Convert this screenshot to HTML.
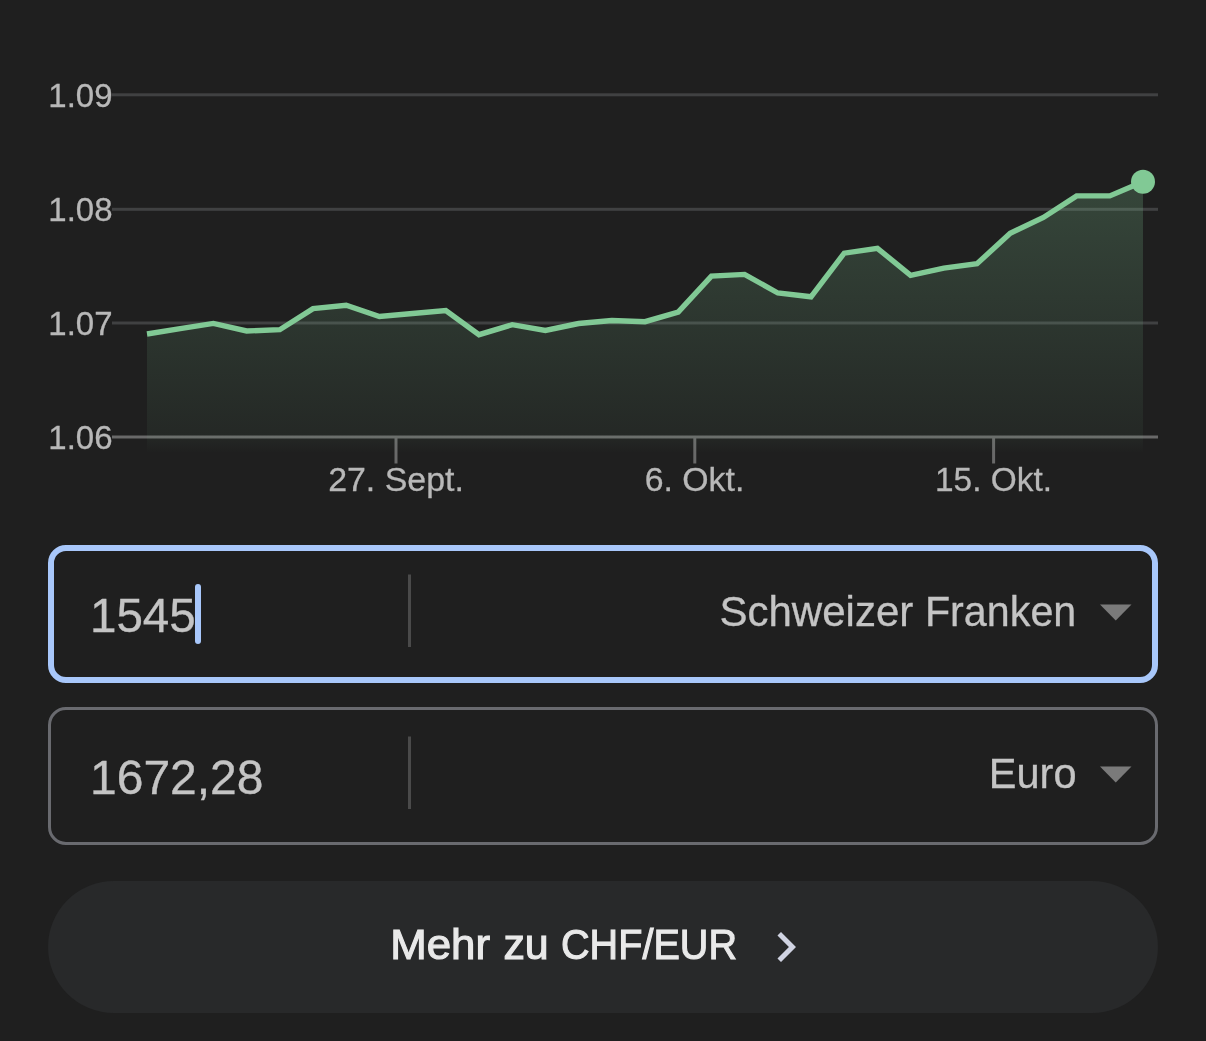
<!DOCTYPE html>
<html lang="de">
<head>
<meta charset="utf-8">
<title>CHF/EUR</title>
<style>
html,body{margin:0;padding:0;background:#1f1f1f;}
body{width:1206px;height:1041px;overflow:hidden;font-family:"Liberation Sans",sans-serif;}
svg{display:block;}
text{font-family:"Liberation Sans",sans-serif;}
</style>
</head>
<body>
<svg width="1206" height="1041" viewBox="0 0 1206 1041">
<defs>
<linearGradient id="g" gradientUnits="userSpaceOnUse" x1="0" y1="181" x2="0" y2="453">
<stop offset="0" stop-color="#81c995" stop-opacity="0.235"/>
<stop offset="0.9375" stop-color="#81c995" stop-opacity="0.055"/>
<stop offset="1" stop-color="#81c995" stop-opacity="0"/>
</linearGradient>
<filter id="bl" x="-20%" y="-20%" width="140%" height="140%"><feGaussianBlur stdDeviation="0.7"/></filter>
</defs>
<rect width="1206" height="1041" fill="#1f1f1f"/>
<!-- grid -->
<g fill="#404142">
<rect x="112" y="93.3" width="1046" height="3"/>
<rect x="112" y="207.8" width="1046" height="3"/>
<rect x="112" y="321.5" width="1046" height="3"/>
</g>
<g fill="#696969">
<rect x="112" y="435.5" width="1046" height="3"/>
<rect x="394.5" y="437" width="3" height="26.5"/>
<rect x="693.3" y="437" width="3" height="26.5"/>
<rect x="992.1" y="437" width="3" height="26.5"/>
</g>
<!-- y labels -->
<g font-size="33" fill="#b8b8b8" stroke="#b8b8b8" stroke-width="0.3">
<text x="48.3" y="107">1.09</text>
<text x="48.3" y="221">1.08</text>
<text x="48.3" y="335">1.07</text>
<text x="48.3" y="449">1.06</text>
</g>
<g font-size="33" fill="#b8b8b8" stroke="#b8b8b8" stroke-width="0.3" text-anchor="middle">
<text x="396" y="491" textLength="135.7" lengthAdjust="spacingAndGlyphs">27. Sept.</text>
<text x="694.5" y="491" textLength="99.7" lengthAdjust="spacingAndGlyphs">6. Okt.</text>
<text x="993.5" y="491" textLength="117" lengthAdjust="spacingAndGlyphs">15. Okt.</text>
</g>
<!-- area + line -->
<polygon points="147,453 147.0,334.0 180.2,328.6 213.4,323.4 246.6,331.0 279.8,329.7 313.0,308.6 346.2,305.3 379.4,316.5 412.6,313.5 445.8,310.5 479.0,334.7 512.2,324.7 545.4,330.4 578.6,323.5 611.8,320.5 645.0,321.7 678.2,312.2 711.4,276.1 744.6,274.4 777.8,293.0 811.0,296.8 844.2,253.2 877.4,248.3 910.6,275.3 943.8,268.1 977.0,263.8 1010.2,233.2 1043.4,217.5 1076.6,195.9 1109.8,195.9 1143.0,181.7 1143,453" fill="url(#g)"/>
<polyline points="147.0,334.0 180.2,328.6 213.4,323.4 246.6,331.0 279.8,329.7 313.0,308.6 346.2,305.3 379.4,316.5 412.6,313.5 445.8,310.5 479.0,334.7 512.2,324.7 545.4,330.4 578.6,323.5 611.8,320.5 645.0,321.7 678.2,312.2 711.4,276.1 744.6,274.4 777.8,293.0 811.0,296.8 844.2,253.2 877.4,248.3 910.6,275.3 943.8,268.1 977.0,263.8 1010.2,233.2 1043.4,217.5 1076.6,195.9 1109.8,195.9 1143.0,181.7" fill="none" stroke="#81c995" stroke-width="5.4" stroke-linejoin="miter"/>
<circle cx="1143" cy="181.7" r="12" fill="#81c995"/>
<!-- box 1 -->
<rect x="51" y="548" width="1104" height="132" rx="15" ry="15" fill="none" stroke="#a8c7fa" stroke-width="6"/>
<rect x="408" y="574.5" width="3" height="72.5" fill="#4a4a4a"/>
<text x="90" y="632" font-size="48" fill="#c4c4c4" stroke="#c4c4c4" stroke-width="0.35" textLength="105.7" lengthAdjust="spacingAndGlyphs">1545</text>
<rect x="195" y="584" width="6" height="60" rx="3" fill="#a8c7fa"/>
<text y="626" font-size="42" fill="#c4c4c4" stroke="#c4c4c4" stroke-width="0.3"><tspan x="719.4" textLength="193.9" lengthAdjust="spacingAndGlyphs">Schweizer</tspan> <tspan x="924.9" textLength="151.4" lengthAdjust="spacingAndGlyphs">Franken</tspan></text>
<polygon points="1100,604.5 1131.5,604.5 1115.75,620.5" fill="#7a7a7a" filter="url(#bl)"/>
<!-- box 2 -->
<rect x="49.5" y="708.5" width="1107" height="135" rx="16.5" ry="16.5" fill="none" stroke="#696a6f" stroke-width="3"/>
<rect x="408" y="736.5" width="3" height="72.5" fill="#4a4a4a"/>
<text x="90" y="793.5" font-size="48" fill="#c4c4c4" stroke="#c4c4c4" stroke-width="0.35">1672,28</text>
<text x="1076.5" y="788" font-size="42" fill="#c4c4c4" stroke="#c4c4c4" stroke-width="0.3" text-anchor="end" textLength="87.7" lengthAdjust="spacingAndGlyphs">Euro</text>
<polygon points="1100,766.5 1131.5,766.5 1115.75,782.5" fill="#7a7a7a" filter="url(#bl)"/>
<!-- button -->
<rect x="48" y="881" width="1110" height="132" rx="66" ry="66" fill="#28292a"/>
<text y="958.9" font-size="42" fill="#e9e9e9" stroke="#e9e9e9" stroke-width="1.1"><tspan x="390.2" textLength="99.8" lengthAdjust="spacingAndGlyphs">Mehr</tspan> <tspan x="503.4" textLength="45.3" lengthAdjust="spacingAndGlyphs">zu</tspan> <tspan x="561" textLength="176" lengthAdjust="spacingAndGlyphs">CHF/EUR</tspan></text>
<path transform="translate(756,917) scale(2.5)" d="M10 6L8.59 7.41 13.17 12l-4.58 4.59L10 18l6-6z" fill="#d0d3e2"/>
</svg>
</body>
</html>
